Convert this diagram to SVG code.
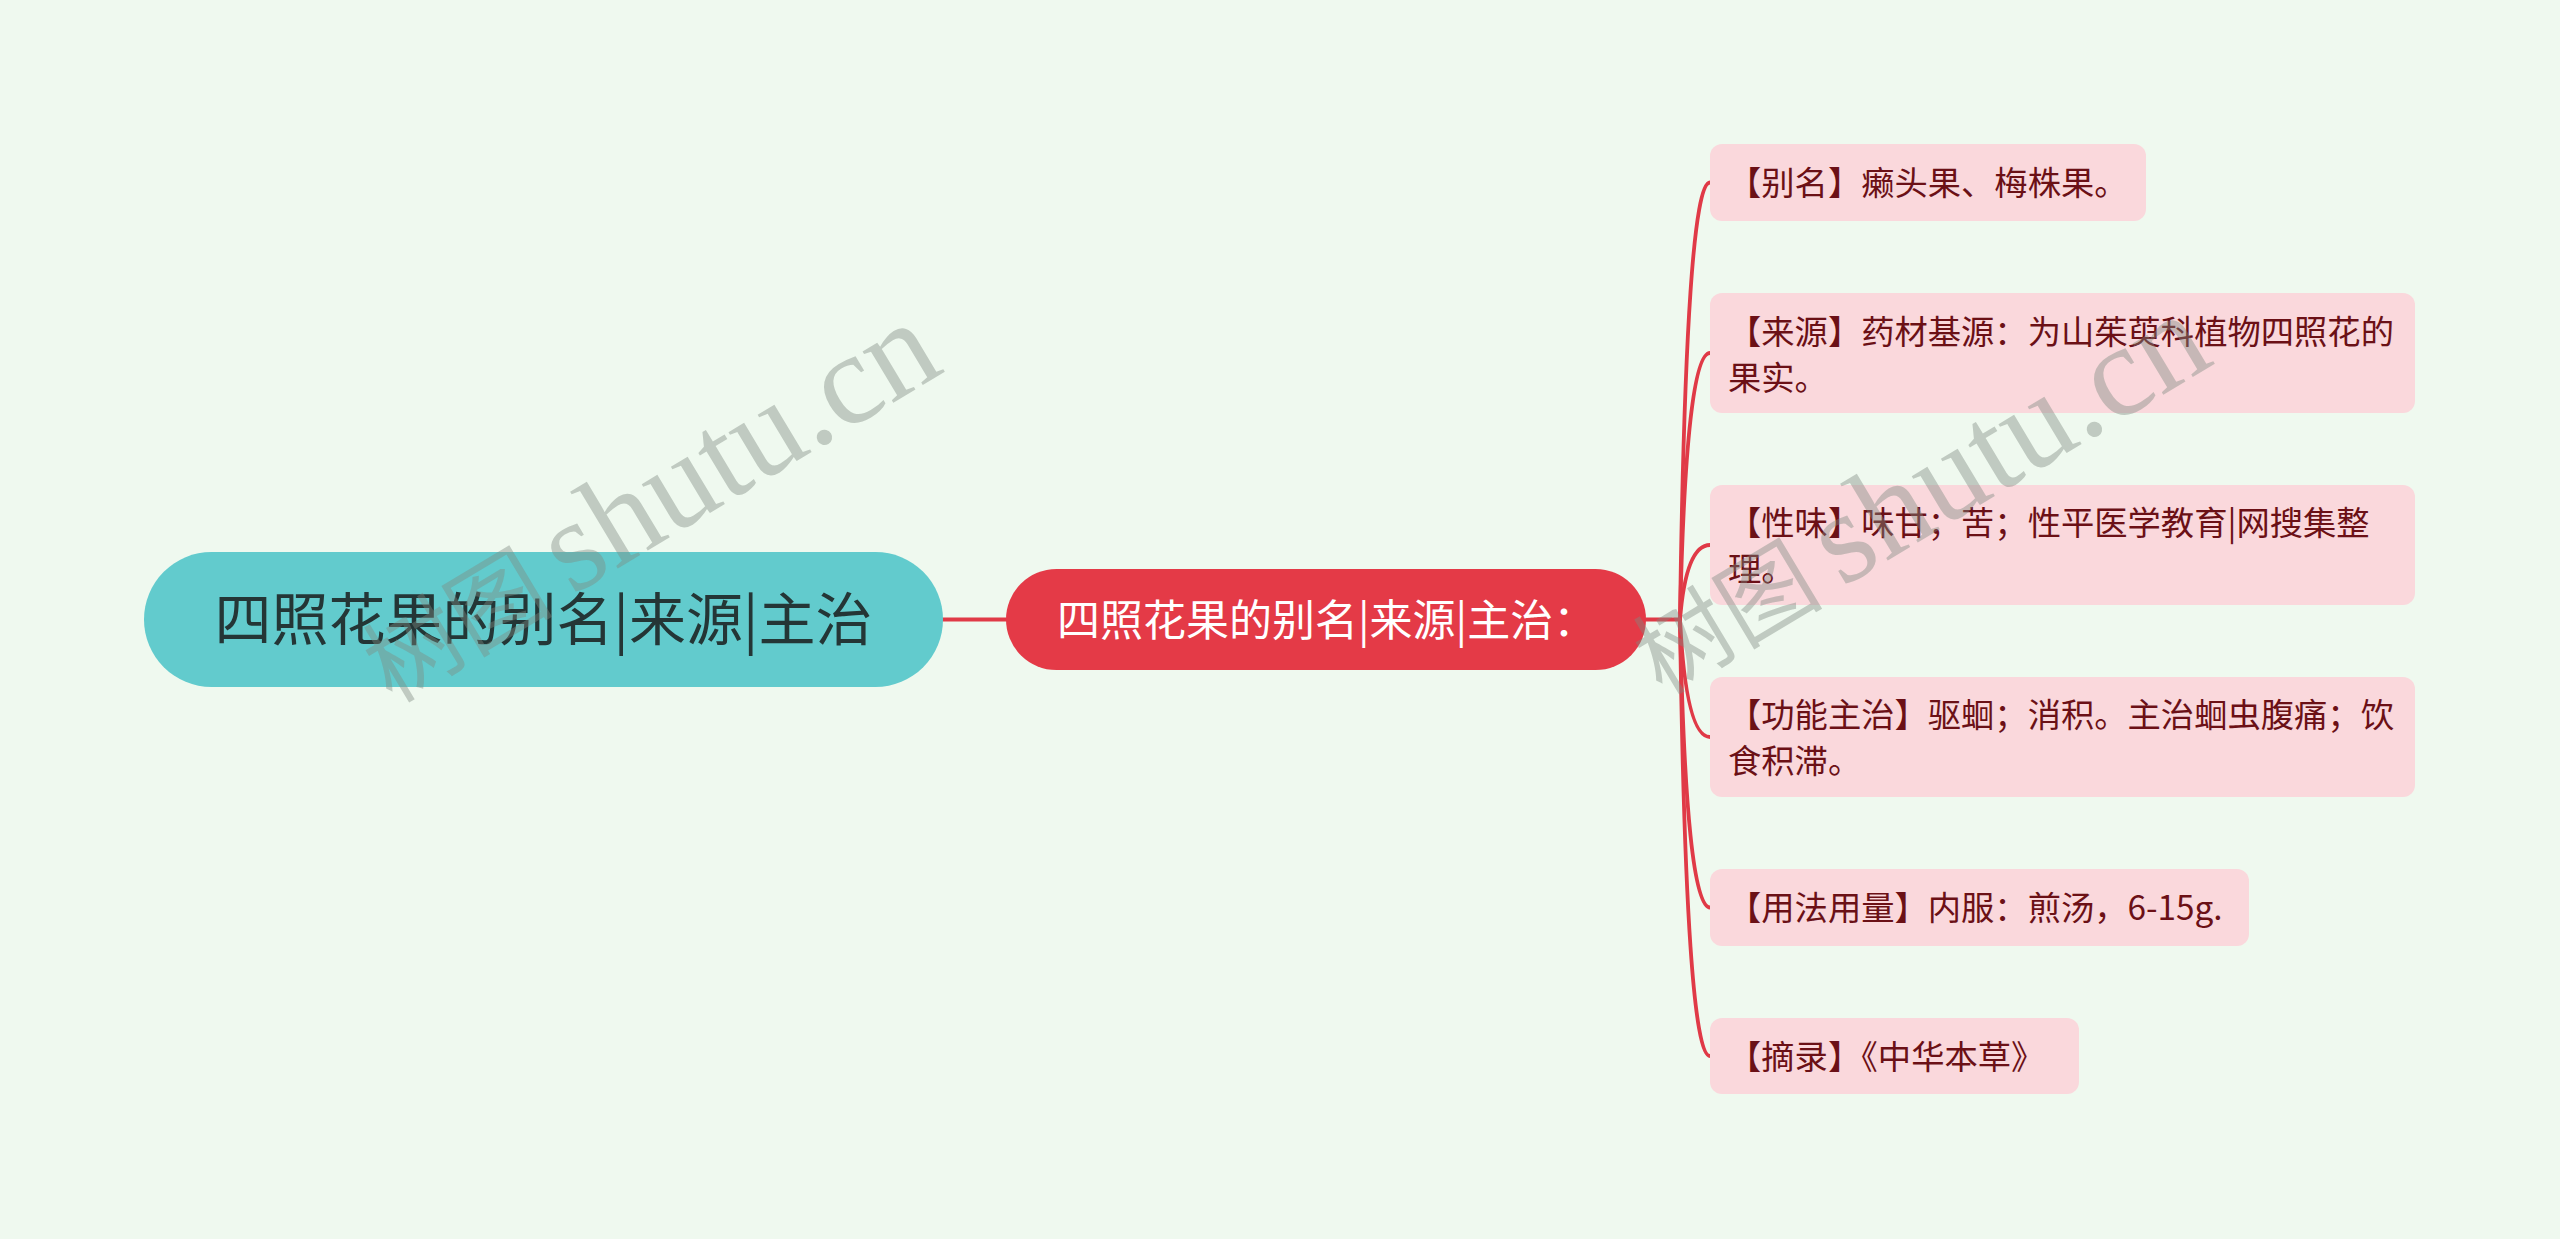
<svg xmlns="http://www.w3.org/2000/svg" width="2560" height="1239" viewBox="0 0 2560 1239">
<style>
.bg{fill:#eff9ef}
.root{fill:#62cbcd}
.rootText{font-family:"Noto Sans CJK SC","Noto Sans",sans-serif;font-size:57px;fill:#243636}
.mid{fill:#e43a47}
.midText{font-family:"Noto Sans CJK SC","Noto Sans",sans-serif;font-size:43px;fill:#ffffff}
.leaf{fill:#fad8dc}
.leafText{font-family:"Noto Sans CJK SC","Noto Sans",sans-serif;font-size:33.3px;fill:#6b1016}
.link{fill:none;stroke:#e03a47;stroke-width:3.8;stroke-linecap:round}
.wm{font-family:"Liberation Serif","Noto Sans CJK SC",serif;fill:#7f8a80;fill-opacity:0.42}
.wmCjk{font-size:95px}
.wmLat{font-size:130px}
</style>
<rect class="bg" x="0" y="0" width="2560" height="1239"/>
<g id="connectors">
<path class="link" d="M943 619.5 L1006 619.5"/>
<path class="link" d="M1646 619.5 L1680 619.5"/>
<path class="link" d="M1680 619.5 Q1686 182.5 1710 182.5"/>
<path class="link" d="M1680 619.5 Q1686 353 1710 353"/>
<path class="link" d="M1680 619.5 Q1686 545 1710 545"/>
<path class="link" d="M1680 619.5 Q1686 737 1710 737"/>
<path class="link" d="M1680 619.5 Q1686 907.5 1710 907.5"/>
<path class="link" d="M1680 619.5 Q1686 1056 1710 1056"/>
</g>
<g id="root">
<rect class="root" x="144" y="552" width="799" height="135" rx="67.5"/>
<text class="rootText" x="543.5" y="640" text-anchor="middle">四照花果的别名|来源|主治</text>
</g>
<g id="main">
<rect class="mid" x="1006" y="569" width="640" height="101" rx="50.5"/>
<text class="midText" x="1057" y="636">四照花果的别名|来源|主治：</text>
</g>
<g id="n1">
<rect class="leaf" x="1710" y="144" width="436" height="77" rx="12"/>
<text class="leafText" x="1728" y="195">【别名】癞头果、梅株果。</text>
</g>
<g id="n2">
<rect class="leaf" x="1710" y="293" width="705" height="120" rx="12"/>
<text class="leafText" x="1728" y="344">【来源】药材基源：为山茱萸科植物四照花的</text>
<text class="leafText" x="1728" y="390">果实。</text>
</g>
<g id="n3">
<rect class="leaf" x="1710" y="485" width="705" height="120" rx="12"/>
<text class="leafText" x="1728" y="535">【性味】味甘；苦；性平医学教育|网搜集整</text>
<text class="leafText" x="1728" y="581">理。</text>
</g>
<g id="n4">
<rect class="leaf" x="1710" y="677" width="705" height="120" rx="12"/>
<text class="leafText" x="1728" y="727">【功能主治】驱蛔；消积。主治蛔虫腹痛；饮</text>
<text class="leafText" x="1728" y="773">食积滞。</text>
</g>
<g id="n5">
<rect class="leaf" x="1710" y="869" width="539" height="77" rx="12"/>
<text class="leafText" x="1728" y="920">【用法用量】内服：煎汤，6-15g.</text>
</g>
<g id="n6">
<rect class="leaf" x="1710" y="1018" width="369" height="76" rx="12"/>
<text class="leafText" x="1728" y="1069">【摘录】《中华本草》</text>
</g>
<g id="watermark">
<text class="wm" transform="translate(392 704) rotate(-31)"><tspan class="wmCjk">树图</tspan><tspan class="wmLat" dx="20">shutu.cn</tspan></text>
<text class="wm" transform="translate(1662 696) rotate(-31)"><tspan class="wmCjk">树图</tspan><tspan class="wmLat" dx="20">shutu.cn</tspan></text>
</g>
</svg>
